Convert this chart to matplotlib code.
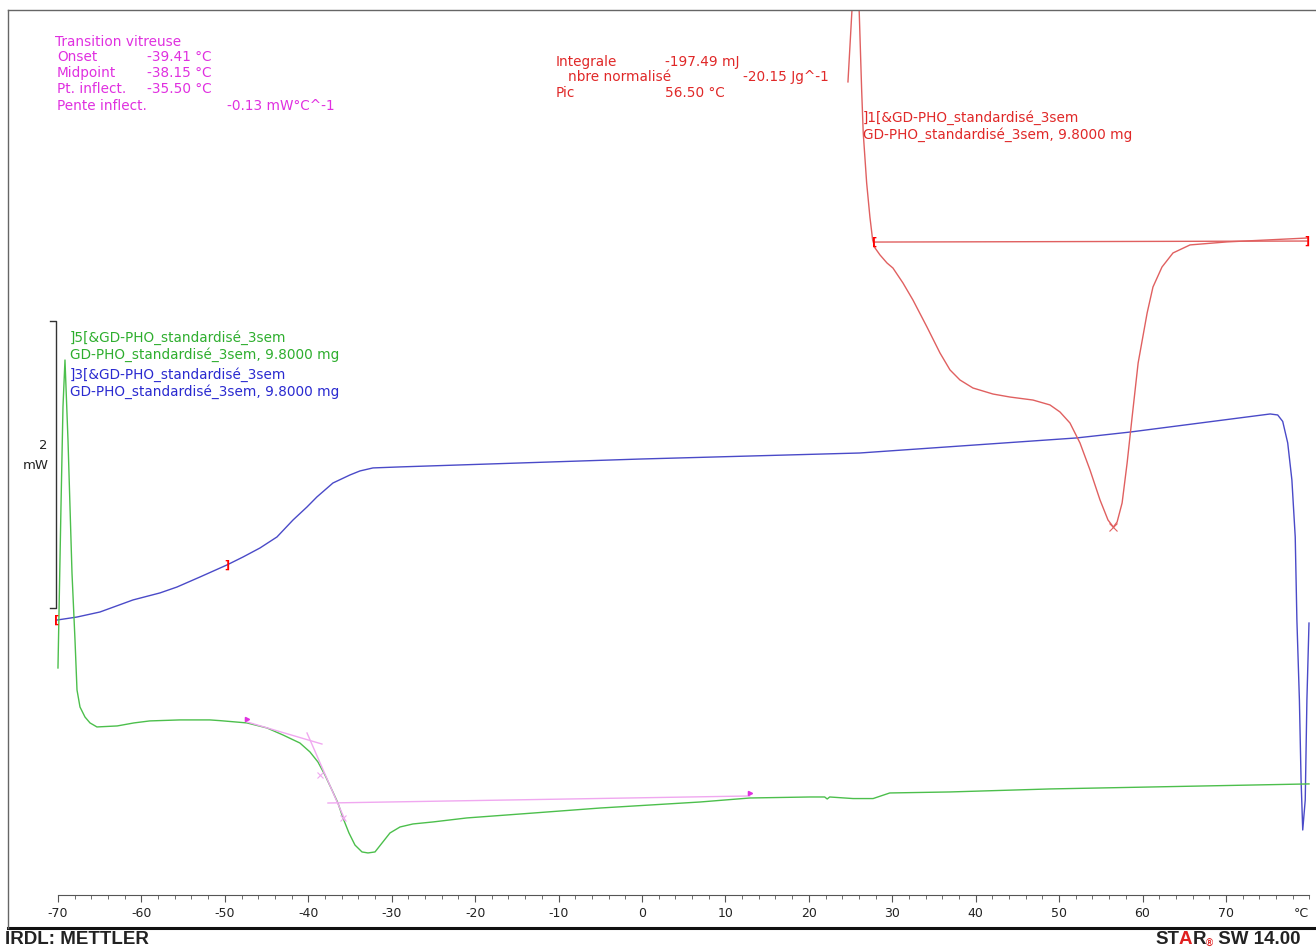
import matplotlib
matplotlib.use("Agg")
import matplotlib.pyplot as plt
from matplotlib.ticker import FixedLocator

W, H = 1316, 950
plt.rcParams["font.family"] = ["DejaVu Sans"]
plt.rcParams["axes.unicode_minus"] = False

# temperature in °C, heat flow in mW (offset is arbitrary)
blue_t = [-70.12, -67.72, -64.97, -61.01, -57.77, -55.74, -52.98, -49.74, -47.83, -45.79,
          -43.75, -41.83, -40.15, -38.96, -37.04, -35.0, -33.8, -32.24, -29.01,
          -0.2, 26.1, 52.1, 58.5, 75.3, 76.2, 76.8, 77.4, 77.9, 78.3, 78.5, 78.8,
          79.0, 79.2, 79.5, 79.7, 79.95]
blue_mw = [1.916, 1.937, 1.972, 2.056, 2.105, 2.146, 2.216, 2.300, 2.355, 2.418,
           2.495, 2.613, 2.704, 2.774, 2.871, 2.927, 2.955, 2.976, 2.983,
           3.038, 3.080, 3.185, 3.226, 3.352, 3.345, 3.300, 3.150, 2.892, 2.495, 1.916, 1.359,
           0.801, 0.453, 0.662, 1.359, 1.895]

green_t = [-70.0, -69.64, -69.4, -69.16, -68.8, -68.32, -67.96, -67.72, -67.36, -66.76,
           -66.16, -65.33, -62.9, -60.9, -59.0, -55.4, -51.8, -50.58, -47.35, -44.95,
           -43.03, -41.0, -39.8, -38.84, -38.0, -37.16, -36.44, -35.84, -35.12, -34.40,
           -33.56, -32.84, -32.0, -31.16, -30.21, -29.0, -27.45, -25.05, -20.98, -13.07,
           -5.04, 6.95, 12.94, 20.14, 21.9, 22.2, 22.5, 25.3, 27.7, 29.7, 36.9, 48.9, 79.95]
green_mw = [1.582, 2.704, 3.401, 3.728, 3.171, 2.244, 1.777, 1.429, 1.310, 1.240,
            1.199, 1.171, 1.178, 1.199, 1.213, 1.220, 1.220, 1.215, 1.199, 1.164,
            1.115, 1.059, 0.997, 0.927, 0.836, 0.732, 0.641, 0.537, 0.432, 0.348,
            0.300, 0.293, 0.300, 0.362, 0.432, 0.474, 0.495, 0.509, 0.537, 0.571,
            0.606, 0.648, 0.676, 0.683, 0.683, 0.669, 0.683, 0.672, 0.672, 0.711, 0.718, 0.739, 0.774]

red_t = [24.69, 25.17, 25.6, 26.04, 26.33, 26.52, 26.93, 27.32, 27.65, 27.93, 28.53, 29.37,
         30.08, 31.28, 32.48, 34.16, 35.72, 36.92, 38.11, 39.67, 42.07, 44.11, 46.87, 48.90,
         50.10, 51.30, 52.50, 53.70, 54.90, 55.86, 56.5, 56.95, 57.55, 58.15, 58.75, 59.47,
         60.55, 61.25, 62.33, 63.65, 65.69, 70.12, 79.71]
red_mw = [5.666, 6.167, 6.6, 6.153, 5.610, 5.310, 4.962, 4.725, 4.564, 4.509, 4.460, 4.404,
          4.369, 4.265, 4.146, 3.958, 3.777, 3.659, 3.589, 3.533, 3.491, 3.470, 3.449, 3.415,
          3.366, 3.289, 3.150, 2.962, 2.753, 2.613, 2.564, 2.599, 2.732, 3.010, 3.331, 3.707,
          4.056, 4.237, 4.376, 4.474, 4.530, 4.551, 4.578]

# integration baseline of the melting peak
red_base_t = [27.93, 79.71]
red_base_mw = [4.550, 4.557]
peak_t, peak_mw = 56.5, 2.564

# glass transition construction lines on the green curve
tg_before_t = [-47.35, -38.36]
tg_before_mw = [1.206, 1.052]
tg_slope_t = [-40.15, -35.60]
tg_slope_mw = [1.129, 0.523]
tg_after_t = [-37.64, 12.9]
tg_after_mw = [0.641, 0.690]
tg_marks_t = [-38.6, -35.8]
tg_marks_mw = [0.836, 0.537]

major_ticks = list(range(-70, 71, 10))
minor_ticks = list(range(-70, 81, 2))

glass_rows = [("Onset", "-39.41 °C"), ("Midpoint", "-38.15 °C"), ("Pt. inflect.", "-35.50 °C")]
curve_name = "&GD-PHO_standardisé_3sem"
sample_line = "GD-PHO_standardisé_3sem, 9.8000 mg"

BLUE, GREEN, RED, PINK = "#4a4ac8", "#4cbf4c", "#e06060", "#f0a8f0"
MAGENTA, RED_TXT, BLUE_TXT, GREEN_TXT = "#e030e0", "#e02828", "#2a2ad0", "#2eae2e"
FS = 9.8


def px(x, y):
    # figure fraction from pixel position in the reference
    return x / W, 1 - y / H


fig = plt.figure(figsize=(W / 100, H / 100), dpi=100)
ax = fig.add_axes([8 / W, 1 - 928 / H, 1 - 8 / W, (928 - 10) / H])
ax.set_xlim(-75.99, 80.79)
ax.set_ylim(-0.230, 6.167)

ax.plot(blue_t, blue_mw, color=BLUE, lw=1.0)
ax.plot(green_t, green_mw, color=GREEN, lw=1.0)
ax.plot(red_t, red_mw, color=RED, lw=1.0)
ax.plot(red_base_t, red_base_mw, color=RED, lw=1.0)
ax.plot(peak_t, peak_mw, marker="x", color=RED, ms=6, mew=0.8)

ax.plot(tg_before_t, tg_before_mw, color=PINK, lw=1.0)
ax.plot(tg_slope_t, tg_slope_mw, color=PINK, lw=1.0)
ax.plot(tg_after_t, tg_after_mw, color=PINK, lw=1.0)
ax.plot(tg_marks_t, tg_marks_mw, "x", color=PINK, ms=4, mew=0.8)
ax.plot([tg_before_t[0], tg_after_t[1]], [tg_before_mw[0] + 0.02, tg_after_mw[1] + 0.02],
        ">", color=MAGENTA, ms=3, ls="none")

# limit markers
for t, m, s in [(blue_t[0], blue_mw[0], "["), (-49.7, 2.300, "]"),
                (red_base_t[0], red_base_mw[0], "["), (red_base_t[1], red_base_mw[1], "]")]:
    ax.text(t, m, s, color="#ff0000", fontsize=8, fontweight="bold", ha="center", va="center")

# 2 mW scale bar
ax.plot([-70.96, -70.18, -70.18, -70.96], [4.0, 4.0, 2.0, 2.0], color="#333333", lw=1.0)
ax.text(-71.3, 3.13, "2", ha="right", va="center", fontsize=9.5, color="#222222")
ax.text(-71.1, 2.99, "mW", ha="right", va="center", fontsize=9.5, color="#222222")

# frame and temperature axis
ax.set_yticks([])
ax.spines["right"].set_visible(False)
for side in ["top", "left"]:
    ax.spines[side].set_color("#666666")
    ax.spines[side].set_linewidth(1.0)
ax.spines["bottom"].set_position(("data", 0))
ax.spines["bottom"].set_bounds(-70, 80)
ax.spines["bottom"].set_color("#555555")
ax.spines["bottom"].set_linewidth(0.8)
ax.xaxis.set_major_locator(FixedLocator(major_ticks))
ax.xaxis.set_minor_locator(FixedLocator(minor_ticks))
ax.tick_params(axis="x", which="major", direction="out", length=5, width=0.8,
               color="#555555", pad=4, labelsize=9, labelcolor="#222222")
ax.tick_params(axis="x", which="minor", direction="out", length=3, width=0.6, color="#555555")
ax.text(79, -0.13, "°C", ha="center", va="center", fontsize=9, color="#222222")
ax.plot([-75.99, 80.79], [-0.230, -0.230], color="#111111", lw=2.2, clip_on=False)

# glass transition results
fig.text(*px(55, 42), "Transition vitreuse", color=MAGENTA, fontsize=FS, va="center")
for i, (name, val) in enumerate(glass_rows):
    fig.text(*px(57, 57 + 16 * i), name, color=MAGENTA, fontsize=FS, va="center")
    fig.text(*px(147, 57 + 16 * i), val, color=MAGENTA, fontsize=FS, va="center")
fig.text(*px(57, 106), "Pente inflect.", color=MAGENTA, fontsize=FS, va="center")
fig.text(*px(227, 106), "-0.13 mW°C^-1", color=MAGENTA, fontsize=FS, va="center")

# melting peak results
fig.text(*px(556, 62), "Integrale", color=RED_TXT, fontsize=FS, va="center")
fig.text(*px(665, 62), "-197.49 mJ", color=RED_TXT, fontsize=FS, va="center")
fig.text(*px(568, 77), "nbre normalisé", color=RED_TXT, fontsize=FS, va="center")
fig.text(*px(743, 77), "-20.15 Jg^-1", color=RED_TXT, fontsize=FS, va="center")
fig.text(*px(556, 93), "Pic", color=RED_TXT, fontsize=FS, va="center")
fig.text(*px(665, 93), "56.50 °C", color=RED_TXT, fontsize=FS, va="center")

# curve labels
fig.text(*px(863, 118), "]1[" + curve_name, color=RED_TXT, fontsize=FS, va="center")
fig.text(*px(863, 135), sample_line, color=RED_TXT, fontsize=FS, va="center")
fig.text(*px(70, 338), "]5[" + curve_name, color=GREEN_TXT, fontsize=FS, va="center")
fig.text(*px(70, 355), sample_line, color=GREEN_TXT, fontsize=FS, va="center")
fig.text(*px(70, 375), "]3[" + curve_name, color=BLUE_TXT, fontsize=FS, va="center")
fig.text(*px(70, 392), sample_line, color=BLUE_TXT, fontsize=FS, va="center")

# footer
fig.text(*px(5, 940), "IRDL: METTLER", fontsize=13.5, fontweight="bold",
         family="Liberation Sans", color="#222222", va="center")
t = fig.text(*px(1155, 940), "ST", fontsize=13.5, fontweight="bold",
             family="Liberation Sans", color="#222222", va="center")
for piece, col, size in [("A", "#e02020", 13.5), ("R", "#222222", 13.5), ("®", "#e02020", 7),
                         (" SW 14.00", "#222222", 13.5)]:
    t = ax.annotate(piece, xy=(1, 0), xycoords=t, va="bottom", ha="left", fontsize=size,
                    fontweight="bold", family="Liberation Sans", color=col,
                    annotation_clip=False)

fig.savefig("out.png", dpi=100)
